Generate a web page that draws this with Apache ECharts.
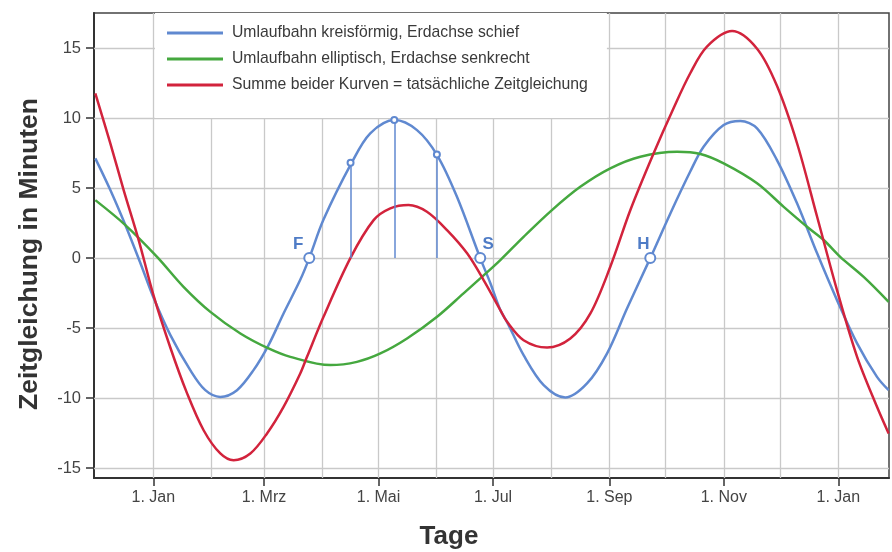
<!DOCTYPE html>
<html><head><meta charset="utf-8">
<script src="https://cdn.jsdelivr.net/npm/echarts@6/dist/echarts.min.js"></script>
<style>html,body{margin:0;padding:0;background:#fff}#c{width:892px;height:552px}</style>
</head><body><div id="c"></div>
<script>
// ---- data (days counted from 1 January; values in minutes) ----
const seriesNames = [
  'Umlaufbahn kreisförmig, Erdachse schief',
  'Umlaufbahn elliptisch, Erdachse senkrecht',
  'Summe beider Kurven = tatsächliche Zeitgleichung'
];
const blueDays = [-30.9,-22.9,-14.9,-6.9,0.2,9.1,19.7,27.7,35.7,44.6,53.4,61.4,69.4,78.3,83.1,90.7,105.5,115.6,128.6,140.5,151.2,161.8,174.2,179.6,184.9,188.5,197.3,208.0,219.5,231.1,241.8,252.4,264.8,275.5,286.1,293.2,303.9,312.8,321.7,332.3,343.0,353.7,364.3,375.0,385.6,391.8];
const blueValues = [7.12,4.86,2.36,-0.35,-2.85,-5.5,-8.0,-9.43,-9.91,-9.43,-8.0,-6.21,-3.95,-1.55,0,2.75,6.76,8.91,9.86,9.14,7.36,4.38,0,-1.79,-3.71,-4.57,-6.93,-9.07,-9.95,-8.95,-6.8,-3.6,0,3.19,6.18,7.95,9.5,9.79,9.26,7.0,3.91,0.34,-3.0,-6.09,-8.48,-9.43];
const greenDays = [-30.9,-14.9,2.0,16.1,30.4,46.4,61.4,73.0,94.3,108.5,121.0,135.2,151.2,165.3,174.2,184.9,197.3,212.4,227.5,243.5,259.5,279.1,291.5,303.9,321.7,335.9,348.3,357.2,366.0,378.5,391.8];
const greenValues = [4.14,2.36,0.09,-2.05,-3.84,-5.38,-6.45,-7.05,-7.64,-7.41,-6.81,-5.74,-4.19,-2.52,-1.45,-0.14,1.52,3.43,5.09,6.41,7.24,7.59,7.43,6.76,5.34,3.66,2.24,1.29,0.09,-1.34,-3.12];
const redDays = [-30.9,-22.9,-15.8,-7.8,0.2,9.1,18.0,26.8,35.7,42.8,51.7,60.6,69.4,78.3,81.9,90.7,105.0,117.4,126.3,136.0,145.8,156.5,167.2,176.0,184.9,188.5,197.3,209.8,222.2,232.9,243.5,254.2,266.6,277.2,286.1,295.0,308.4,321.7,332.3,343.0,353.7,364.3,375.0,385.6,391.8];
const redValues = [11.76,8.19,4.86,1.29,-2.7,-6.4,-9.66,-12.29,-13.95,-14.43,-13.95,-12.52,-10.62,-8.24,-7.05,-4.19,0,2.71,3.55,3.79,3.31,2.0,0.34,-1.57,-3.71,-4.55,-5.86,-6.38,-5.74,-3.95,-0.62,3.43,7.48,10.7,13.2,15.1,16.21,14.95,12.3,8.2,2.95,-2.29,-7.05,-10.62,-12.52];
const tickDays = [0,59,120,181,243,304,365];
const tickLabels = ['1. Jan','1. Mrz','1. Mai','1. Jul','1. Sep','1. Nov','1. Jan'];
const monthStarts = [0,31,59,90,120,151,181,212,243,273,304,334,365];
const yTicks = [-15,-10,-5,0,5,10,15];
const zeroDays = [83.1,174.2,264.8];
const zeroLabels = ['F','S','H'];
const guideDays = [105.1,128.4,151.1];
const guideValues = [6.8,9.86,7.4];

// ---- styles ----
const FONT = '"Liberation Sans",Arial,sans-serif';
const BLUE = '#6089d0', GREEN = '#45a83f', RED = '#d2233c';
const LABEL_SHIFT = { F: -11, S: 8, H: -7 };
const SMOOTH = 0.33;
const zip = (a, b) => a.map((d, i) => [d, b[i]]);

const chart = echarts.init(document.getElementById('c'));
chart.setOption({
  backgroundColor: '#fff',
  animation: false,
  grid: { left: 94, right: 3, top: 13, bottom: 74, show: true, borderColor: '#444', borderWidth: 1.5 },
  legend: {
    data: seriesNames, orient: 'vertical', left: 155, top: 13,
    backgroundColor: '#fff', padding: [10, 19, 23, 12],
    icon: 'rect', itemWidth: 56, itemHeight: 3, itemGap: 6,
    textStyle: { fontFamily: FONT, fontSize: 15.75, color: '#3a3a3a', lineHeight: 20, padding: [0, 0, 0, 4] }
  },
  xAxis: {
    type: 'value', min: -31.6, max: 392,
    axisLine: { show: true, onZero: false, lineStyle: { color: '#333', width: 2 } },
    axisTick: { show: true, customValues: tickDays, length: 8, lineStyle: { color: '#333', width: 1.5 } },
    axisLabel: { customValues: tickDays, margin: 12, fontFamily: FONT, fontSize: 16, color: '#444',
      formatter: v => tickLabels[tickDays.indexOf(v)] },
    splitLine: { show: false }
  },
  yAxis: {
    type: 'value', min: -15.7, max: 17.5,
    axisLine: { show: true, onZero: false, lineStyle: { color: '#333', width: 2 } },
    axisTick: { show: true, customValues: yTicks, length: 8, lineStyle: { color: '#333', width: 1.5 } },
    axisLabel: { customValues: yTicks, margin: 13, fontFamily: FONT, fontSize: 16.5, color: '#444' },
    splitLine: { show: false }
  },
  graphic: [
    { type: 'text', x: 30, y: 254, rotation: Math.PI / 2,
      style: { text: 'Zeitgleichung in Minuten', font: 'bold 26.5px ' + FONT, fill: '#333',
        textAlign: 'center', textVerticalAlign: 'middle', align: 'center', verticalAlign: 'middle' } },
    { type: 'text', x: 449, y: 537,
      style: { text: 'Tage', font: 'bold 26px ' + FONT, fill: '#333',
        textAlign: 'center', textVerticalAlign: 'middle', align: 'center', verticalAlign: 'middle' } }
  ],
  series: [
    { type: 'line', name: '_grid', data: [], silent: true, z: 1,
      markLine: { silent: true, z: 1, symbol: 'none', animation: false, label: { show: false },
        lineStyle: { color: '#c9c9c9', width: 1.3, type: 'solid' },
        emphasis: { disabled: true },
        data: [...monthStarts.map(d => ({ xAxis: d })), ...yTicks.map(v => ({ yAxis: v }))] } },
    { type: 'line', name: seriesNames[0], data: zip(blueDays, blueValues), smooth: SMOOTH, symbol: 'none', z: 3,
      color: BLUE, lineStyle: { color: BLUE, width: 2.5 },
      markLine: { silent: true, symbol: ['none', 'emptyCircle'], symbolSize: 6, label: { show: false },
        lineStyle: { color: BLUE, width: 1.5, type: 'solid' }, emphasis: { disabled: true },
        data: guideDays.map((d, i) => [{ coord: [d, 0] }, { coord: [d, guideValues[i]] }]) } },
    { type: 'line', name: seriesNames[1], data: zip(greenDays, greenValues), smooth: SMOOTH, symbol: 'none', z: 3,
      color: GREEN, lineStyle: { color: GREEN, width: 2.5 } },
    { type: 'line', name: seriesNames[2], data: zip(redDays, redValues), smooth: SMOOTH, symbol: 'none', z: 3,
      color: RED, lineStyle: { color: RED, width: 2.5 } },
    { type: 'scatter', name: '_zero', z: 5, symbol: 'emptyCircle', symbolSize: 10, silent: true,
      itemStyle: { color: BLUE, borderColor: BLUE, borderWidth: 1.5, opacity: 1 },
      label: { show: true, formatter: '{b}', position: 'top', textBorderWidth: 0,
        fontFamily: FONT, fontWeight: 'bold', fontSize: 17, color: '#4f7cc6' },
      data: zeroDays.map((d, i) => ({ value: [d, 0], name: zeroLabels[i],
        label: { offset: [LABEL_SHIFT[zeroLabels[i]], 6] } })) }
  ]
});
</script></body></html>
